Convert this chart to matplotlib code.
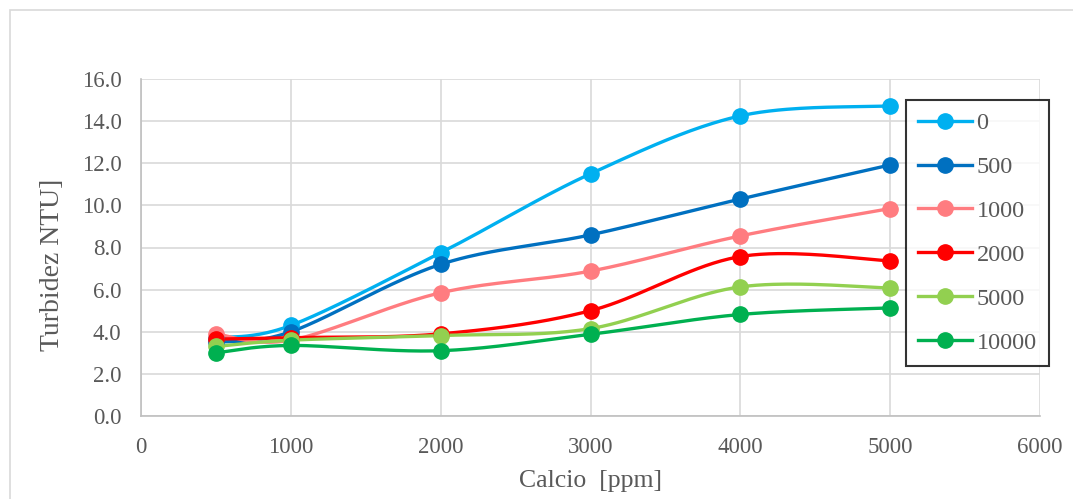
import numpy as np
import matplotlib
matplotlib.use('Agg')
import matplotlib.pyplot as plt
from matplotlib.patches import Rectangle
from matplotlib.lines import Line2D

plt.rcParams['font.family'] = ['Liberation Serif', 'DejaVu Serif']

calcio = [500, 1000, 2000, 3000, 4000, 5000]
series_names = ['0', '500', '1000', '2000', '5000', '10000']
s0 = [3.7, 4.3, 7.75, 11.5, 14.25, 14.72]
s500 = [3.5, 4.0, 7.2, 8.6, 10.3, 11.92]
s1000 = [3.9, 3.6, 5.85, 6.88, 8.55, 9.85]
s2000 = [3.65, 3.72, 3.9, 5.0, 7.57, 7.37]
s5000 = [3.3, 3.6, 3.82, 4.15, 6.13, 6.08]
s10000 = [3.0, 3.35, 3.1, 3.88, 4.82, 5.13]
colors = ['#00B0F0', '#0070C0', '#FF7C80', '#FF0000', '#92D050', '#00B050']
grey = '#595959'


def smooth(x, y, n=40):
    # excel-like smoothed line: catmull-rom style bezier in scaled space
    x = np.asarray(x, float) / 6000 * 898
    y = np.asarray(y, float) / 16 * 337
    px, py = [], []
    for i in range(len(x) - 1):
        x0, y0 = (x[i - 1], y[i - 1]) if i > 0 else (x[i], y[i])
        x3, y3 = (x[i + 2], y[i + 2]) if i + 2 < len(x) else (x[i + 1], y[i + 1])
        c1x = x[i] + (x[i + 1] - x0) / 6
        c1y = y[i] + (y[i + 1] - y0) / 6
        c2x = x[i + 1] - (x3 - x[i]) / 6
        c2y = y[i + 1] - (y3 - y[i]) / 6
        t = np.linspace(0, 1, n)
        bx = (1 - t)**3 * x[i] + 3 * (1 - t)**2 * t * c1x + 3 * (1 - t) * t**2 * c2x + t**3 * x[i + 1]
        by = (1 - t)**3 * y[i] + 3 * (1 - t)**2 * t * c1y + 3 * (1 - t) * t**2 * c2y + t**3 * y[i + 1]
        px.extend(bx)
        py.extend(by)
    return np.array(px) * 6000 / 898, np.array(py) * 16 / 337


fig = plt.figure(figsize=(10.73, 4.99), dpi=100)
fig.patches.append(Rectangle((10 / 1073, -0.1), 1.2, 1 - 10 / 499 + 0.1, transform=fig.transFigure,
                             fill=False, edgecolor='#D9D9D9', linewidth=1.2))
ax = fig.add_axes([141 / 1073, 1 - 416 / 499, 899 / 1073, 337 / 499])

handles = []
for name, ys, c in zip(series_names, [s0, s500, s1000, s2000, s5000, s10000], colors):
    sx, sy = smooth(calcio, ys)
    ax.plot(sx, sy, color=c, linewidth=2.4, zorder=3)
    ax.plot(calcio, ys, 'o', color=c, markersize=11, zorder=4)
    handles.append(Line2D([], [], color=c, linewidth=2.4, marker='o', markersize=11, label=name))

ax.set_xlim(0, 6000)
ax.set_ylim(0, 16)
ax.set_xticks(range(0, 6001, 1000))
ax.set_yticks(np.arange(0, 16.1, 2))
ax.set_yticklabels([f'{v:.1f}' for v in np.arange(0, 16.1, 2)])
ax.grid(True, color='#D9D9D9', linewidth=1.2)
ax.set_axisbelow(True)
for s in ['top', 'right']:
    ax.spines[s].set_visible(False)
for s in ['left', 'bottom']:
    ax.spines[s].set_color('#BFBFBF')
    ax.spines[s].set_linewidth(1.2)
ax.tick_params(length=0, labelsize=16.5, colors=grey)
ax.tick_params(axis='y', pad=14)
ax.tick_params(axis='x', pad=15)
ax.set_xlabel('Calcio  [ppm]', fontsize=18.5, color=grey, labelpad=9)
ax.set_ylabel('Turbidez NTU]', fontsize=20, color=grey)
ax.yaxis.set_label_coords(-76 / 899, 0.448)

leg = fig.legend(handles=handles, loc='upper left', bbox_to_anchor=(906 / 1073, 1 - 100 / 499),
                 frameon=True, fancybox=False, fontsize=17.5, labelcolor=grey,
                 handlelength=2.2, labelspacing=0.9, borderpad=0.5, handletextpad=0.2,
                 borderaxespad=0)
leg.get_frame().set_edgecolor('black')
leg.get_frame().set_linewidth(1.5)

fig.savefig('out.png', dpi=100)
